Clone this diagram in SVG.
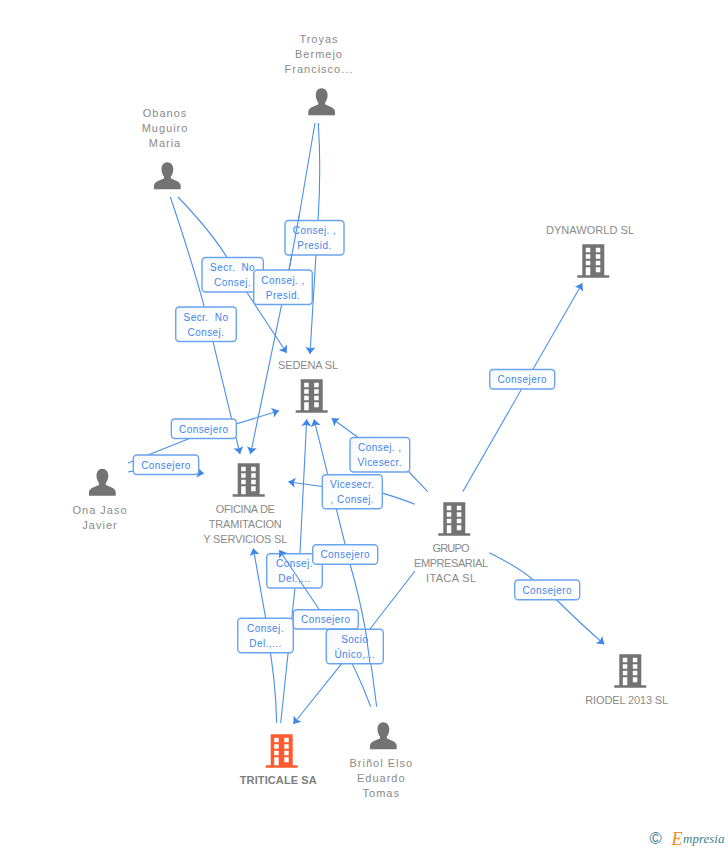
<svg xmlns="http://www.w3.org/2000/svg" width="728" height="850" viewBox="0 0 728 850">
<style>
.n{font:11px "Liberation Sans",Arial,sans-serif;fill:#8a8a8a;text-anchor:middle;letter-spacing:1px}
.u{letter-spacing:0}
.b{font-weight:bold;letter-spacing:.1px;fill:#7f7f7f}
.e{fill:none;stroke:#4a8fe8;stroke-width:1.1;marker-end:url(#a)}
.o{fill:none;stroke:#4a8fe8;stroke-width:1.1}
.l rect{fill:url(#g);stroke:#6aa3ee;stroke-width:1.4}
.l text{font:10px "Liberation Sans",Arial,sans-serif;fill:#3d85ea;text-anchor:middle;letter-spacing:.45px}
.l .w{word-spacing:3px}
</style>
<defs>
<linearGradient id="g" x1="0" y1="0" x2="1" y2="1"><stop offset="0" stop-color="#f4f6f9"/><stop offset=".5" stop-color="#fff"/><stop offset="1" stop-color="#fff"/></linearGradient>
<marker id="a" markerUnits="userSpaceOnUse" markerWidth="8" markerHeight="11" viewBox="0 0 8 11" refX="7" refY="5.5" orient="auto"><path d="M0,.5L7,5.500L0,10.500L1.500,5.500Z" fill="#3d85ea"/></marker>
<path id="bp" fill-rule="evenodd" d="M5,0H27V31H32V33.500H0V31H5ZM8.500,3.500V8H13V3.500ZM18.500,3.500V8H23V3.500ZM8.500,10V14.500H13V10ZM18.500,10V14.500H23V10ZM8.500,16.500V21H13V16.500ZM18.500,16.500V21H23V16.500ZM8.500,23V31H13V23ZM18.500,23V28H23V23Z"/>
<path id="pp" d="M13.300,0C17,0 19.300,3 19.300,7C19.300,10 18,13 16.800,14.500V16C18,17.500 26.700,18.500 26.700,23.500V27H0V23.500C0,18.500 9,17.500 10,16V14.500C8.700,13 7.500,10 7.500,7C7.500,3 9.700,0 13.300,0Z"/>
</defs>
<rect width="728" height="850" fill="#fff"/>
<g id="connectors">
<path class="e" d="M318.300,123C321,165 320,190 318,221L310,354"/>
<path class="e" d="M315,123L299.300,215L289,270L281.700,304.300L250.500,454"/>
<path class="e" d="M170.300,197C190,255 205,305 215,350L240,454"/>
<path class="e" d="M178,197C200,220 215,238 226.700,257L246.700,292L286.700,353"/>
<path class="e" d="M128,463L190,438.300L279,410.700"/>
<path class="e" d="M128,472C150,468 180,470 204,473.500"/>
<path class="e" d="M427.700,491.700L409,472L357.700,437.300L331.700,418.300"/>
<path class="e" d="M414.700,504.300C405,500 395,497 382,493L322,486.500L288.300,481.700"/>
<path class="e" d="M376.700,706.700C373,675 369,650 365.300,629.300C361,605 356,585 350,564L314,419.300"/>
<path class="o" d="M370.700,706.700C362,683 347,652 333.300,629.300L319,609.300"/>
<path class="e" d="M280.700,723L295,588L300,553L306.700,419.300"/>
<path class="e" d="M276.700,723C276,690 273,670 265.700,618.300L253.300,548.300"/>
<path class="e" d="M415,571L370,629L341.700,663.700L293.300,724"/>
<path class="e" d="M462.700,491.700L582.300,283.300"/>
<path class="e" d="M489.300,552.700C510,563 522,570 533.300,580L556.700,600C575,618 590,632 604.300,644.300"/>
</g>
<g id="labels">
<g class="l"><rect x="285" y="220.500" width="59" height="34.500" rx="3.500"/><text x="314.500" y="234">Consej. ,</text><text x="314.500" y="249">Presid.</text></g>
<g class="l"><rect x="202" y="257.500" width="61.300" height="34.500" rx="3.500"/><text class="w" x="232.600" y="271">Secr. No</text><text x="232.600" y="286">Consej.</text></g>
<g class="l"><rect x="253.700" y="270" width="58.600" height="34.500" rx="3.500"/><text x="283" y="284">Consej. ,</text><text x="283" y="299">Presid.</text></g>
<g class="l"><rect x="175.700" y="307" width="60.600" height="34.500" rx="3.500"/><text class="w" x="206" y="320.500">Secr. No</text><text x="206" y="335.500">Consej.</text></g>
<g class="l"><rect x="171.300" y="419" width="65" height="19.500" rx="3.500"/><text x="203.800" y="432.500">Consejero</text></g>
<g class="l"><rect x="133.300" y="455" width="65.400" height="19.500" rx="3.500"/><text x="166" y="468.500">Consejero</text></g>
<g class="l"><rect x="350" y="437.500" width="59.700" height="34.500" rx="3.500"/><text x="379.800" y="451">Consej. ,</text><text x="379.800" y="466">Vicesecr.</text></g>
<g class="l"><rect x="322.300" y="474.700" width="60" height="34" rx="3.500"/><text x="352.300" y="488">Vicesecr.</text><text x="352.300" y="503">, Consej.</text></g>
<g class="l"><rect x="266.700" y="553.700" width="55.600" height="34.300" rx="3.500"/><text x="294.500" y="567">Consej.</text><text x="294.500" y="582">Del.,...</text></g>
<g class="l"><rect x="312.700" y="544.700" width="65" height="19.500" rx="3.500"/><text x="345.200" y="558">Consejero</text></g>
<g class="l"><rect x="237.700" y="618.300" width="55.600" height="34.400" rx="3.500"/><text x="265.500" y="631.500">Consej.</text><text x="265.500" y="646.500">Del.,...</text></g>
<g class="l"><rect x="293.300" y="609.700" width="65" height="19.300" rx="3.500"/><text x="325.800" y="623">Consejero</text></g>
<g class="l"><rect x="326.300" y="629.300" width="57" height="34.400" rx="3.500"/><text x="354.800" y="643">Socio</text><text x="354.800" y="658">Único,...</text></g>
<g class="l"><rect x="489.700" y="369.500" width="65" height="19.500" rx="3.500"/><text x="522.200" y="383">Consejero</text></g>
<g class="l"><rect x="514.700" y="580" width="65" height="19.700" rx="3.500"/><text x="547.200" y="593.500">Consejero</text></g>
</g>
<g id="connectors-over">
<path class="o" d="M299.300,215L289,270"/>
<path class="e" d="M319,609.300L279.300,550"/>
<path class="o" d="M365.300,629.300C367,640 368.500,652 370,663.700"/>
</g>
<g id="n-troyas" fill="#737373"><use href="#pp" x="308.300" y="88.300"/><text class="n" x="319" y="43">Troyas</text><text class="n" x="319" y="58">Bermejo</text><text class="n" x="319" y="73">Francisco...</text></g>
<g id="n-obanos" fill="#737373"><use href="#pp" x="154" y="162.300"/><text class="n" x="165" y="117">Obanos</text><text class="n" x="165" y="132">Muguiro</text><text class="n" x="165" y="147">Maria</text></g>
<g id="n-ona" fill="#737373"><use href="#pp" x="89" y="468.700"/><text class="n" x="100" y="513.500">Ona Jaso</text><text class="n" x="100" y="528.500">Javier</text></g>
<g id="n-brinol" fill="#737373"><use href="#pp" x="370" y="722.300"/><text class="n" x="381.300" y="767">Briñol Elso</text><text class="n" x="381.300" y="782">Eduardo</text><text class="n" x="381.300" y="797">Tomas</text></g>
<g id="n-sedena" fill="#737373"><use href="#bp" x="295.700" y="379.300"/><text class="n u" x="308" y="369" textLength="60">SEDENA SL</text></g>
<g id="n-oficina" fill="#737373"><use href="#bp" x="232.700" y="463.300"/><text class="n u" x="245.300" y="513" textLength="59">OFICINA DE</text><text class="n u" x="245.300" y="528" textLength="73">TRAMITACION</text><text class="n u" x="245.300" y="543" textLength="84">Y SERVICIOS SL</text></g>
<g id="n-dynaworld" fill="#737373"><use href="#bp" x="577.300" y="244.300"/><text class="n u" x="590" y="234" textLength="88">DYNAWORLD SL</text></g>
<g id="n-grupo" fill="#737373"><use href="#bp" x="438.300" y="502.300"/><text class="n u" x="451" y="552" textLength="37">GRUPO</text><text class="n u" x="451" y="567" textLength="74">EMPRESARIAL</text><text class="n u" x="451" y="582" textLength="50">ITACA SL</text></g>
<g id="n-riodel" fill="#737373"><use href="#bp" x="614.300" y="654.300"/><text class="n u" x="626.700" y="704" textLength="83">RIODEL 2013 SL</text></g>
<g id="n-triticale" fill="#ff5a2c"><use href="#bp" x="265.700" y="734.300"/><text class="n b" x="278.300" y="784">TRITICALE SA</text></g>
<g id="logo"><text x="649.500" y="844" font-family="'Liberation Sans',sans-serif" font-size="16.500" fill="#3b7f93">©</text><text x="671.500" y="844.500" font-family="'Liberation Serif',serif" font-style="italic" font-size="18" fill="#f08a1d">E</text><text x="683" y="843" font-family="'Liberation Serif',serif" font-style="italic" font-size="13" fill="#3b7f93">mpresia</text></g>
</svg>
